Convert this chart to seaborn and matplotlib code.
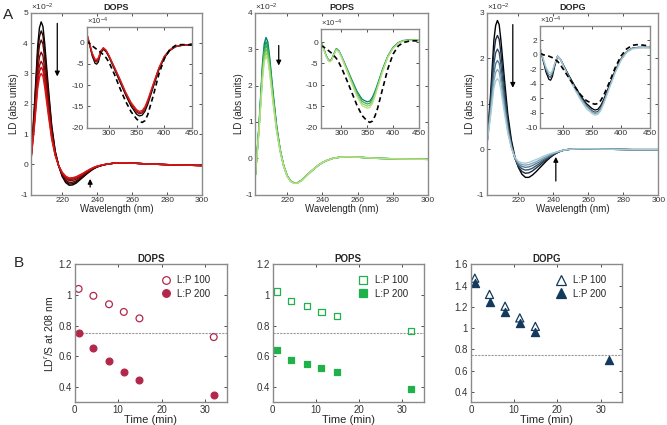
import numpy as np
import pandas as pd
import matplotlib
matplotlib.use("Agg")
import matplotlib.pyplot as plt
import seaborn as sns
from matplotlib.lines import Line2D
from matplotlib.ticker import FuncFormatter

# ---- panel A: LD spectra (units of 1e-2) ----
wl = [202, 204, 206, 207, 208, 209, 210, 212, 214, 216, 218, 220, 222, 224, 226,
      228, 230, 232, 234, 236, 238, 240, 243, 246, 250, 255, 260, 270, 285, 300]

dops_ld = [
    [0.05, 1.8, 3.9, 4.5, 4.7, 4.55, 4.0, 2.6, 1.3, 0.45, -0.05, -0.4, -0.6, -0.69, -0.68, -0.62, -0.52, -0.42, -0.32, -0.23, -0.15, -0.09, -0.03, 0.01, 0.04, 0.05, 0.04, 0.01, -0.02, -0.04],
    [0.05, 1.68, 3.65, 4.21, 4.4, 4.26, 3.74, 2.43, 1.22, 0.42, -0.05, -0.37, -0.56, -0.65, -0.64, -0.58, -0.49, -0.4, -0.3, -0.21, -0.14, -0.08, -0.03, 0.01, 0.04, 0.05, 0.04, 0.01, -0.02, -0.04],
    [0.05, 1.57, 3.4, 3.92, 4.1, 3.97, 3.49, 2.27, 1.14, 0.39, -0.05, -0.34, -0.52, -0.6, -0.59, -0.54, -0.46, -0.37, -0.28, -0.2, -0.13, -0.08, -0.03, 0.01, 0.04, 0.05, 0.04, 0.01, -0.02, -0.04],
    [0.05, 1.42, 3.07, 3.54, 3.7, 3.58, 3.15, 2.05, 1.02, 0.36, -0.05, -0.31, -0.47, -0.54, -0.53, -0.49, -0.42, -0.34, -0.26, -0.18, -0.12, -0.07, -0.02, 0.01, 0.04, 0.05, 0.04, 0.01, -0.02, -0.04],
    [0.05, 1.3, 2.82, 3.25, 3.4, 3.29, 2.89, 1.88, 0.94, 0.33, -0.05, -0.29, -0.44, -0.5, -0.49, -0.45, -0.39, -0.31, -0.24, -0.17, -0.11, -0.07, -0.02, 0.01, 0.04, 0.05, 0.04, 0.01, -0.02, -0.04],
    [0.05, 1.22, 2.66, 3.06, 3.2, 3.1, 2.72, 1.77, 0.89, 0.31, -0.05, -0.27, -0.41, -0.47, -0.46, -0.42, -0.37, -0.3, -0.23, -0.16, -0.11, -0.06, -0.02, 0.01, 0.04, 0.05, 0.04, 0.01, -0.02, -0.04],
    [0.05, 1.15, 2.49, 2.87, 3.0, 2.9, 2.55, 1.66, 0.83, 0.29, -0.05, -0.26, -0.39, -0.45, -0.44, -0.41, -0.35, -0.29, -0.22, -0.16, -0.1, -0.06, -0.02, 0.01, 0.04, 0.05, 0.04, 0.01, -0.02, -0.04],
]
pops_ld = [
    [-0.45, 0.9, 2.6, 3.15, 3.32, 3.2, 2.8, 1.8, 0.9, 0.25, -0.2, -0.48, -0.63, -0.68, -0.67, -0.61, -0.52, -0.43, -0.34, -0.26, -0.18, -0.12, -0.05, 0.0, 0.03, 0.04, 0.03, 0.0, -0.02, -0.03],
    [-0.45, 0.86, 2.5, 3.04, 3.2, 3.08, 2.7, 1.73, 0.86, 0.23, -0.2, -0.48, -0.63, -0.68, -0.67, -0.61, -0.52, -0.43, -0.34, -0.26, -0.18, -0.12, -0.05, 0.0, 0.03, 0.04, 0.03, 0.0, -0.02, -0.03],
    [-0.45, 0.83, 2.42, 2.94, 3.1, 2.99, 2.61, 1.68, 0.83, 0.22, -0.21, -0.48, -0.63, -0.68, -0.67, -0.61, -0.52, -0.43, -0.34, -0.26, -0.18, -0.12, -0.05, 0.0, 0.03, 0.04, 0.03, 0.0, -0.02, -0.03],
    [-0.45, 0.8, 2.34, 2.85, 3.0, 2.89, 2.53, 1.62, 0.8, 0.21, -0.21, -0.49, -0.63, -0.68, -0.67, -0.61, -0.52, -0.43, -0.34, -0.26, -0.18, -0.12, -0.05, 0.0, 0.03, 0.04, 0.03, 0.0, -0.02, -0.03],
    [-0.45, 0.77, 2.26, 2.75, 2.9, 2.8, 2.44, 1.57, 0.77, 0.2, -0.22, -0.49, -0.64, -0.69, -0.68, -0.62, -0.53, -0.43, -0.34, -0.26, -0.18, -0.12, -0.05, 0.0, 0.03, 0.04, 0.03, 0.0, -0.02, -0.03],
    [-0.45, 0.74, 2.18, 2.66, 2.8, 2.7, 2.36, 1.51, 0.74, 0.19, -0.22, -0.5, -0.64, -0.69, -0.68, -0.62, -0.53, -0.43, -0.34, -0.26, -0.18, -0.12, -0.05, 0.0, 0.03, 0.04, 0.03, 0.0, -0.02, -0.03],
]
dopg_ld = [
    [0.1, 1.15, 2.4, 2.72, 2.83, 2.74, 2.4, 1.55, 0.75, 0.2, -0.17, -0.4, -0.55, -0.62, -0.62, -0.57, -0.5, -0.42, -0.34, -0.26, -0.19, -0.13, -0.06, -0.02, 0.0, 0.01, 0.01, 0.0, -0.01, -0.01],
    [0.1, 1.03, 2.13, 2.41, 2.5, 2.42, 2.12, 1.35, 0.63, 0.13, -0.2, -0.39, -0.49, -0.53, -0.52, -0.48, -0.42, -0.36, -0.29, -0.23, -0.17, -0.12, -0.06, -0.02, 0.0, 0.01, 0.01, 0.0, -0.01, -0.01],
    [0.1, 0.93, 1.88, 2.12, 2.2, 2.13, 1.86, 1.17, 0.53, 0.09, -0.2, -0.36, -0.43, -0.46, -0.45, -0.42, -0.37, -0.32, -0.26, -0.21, -0.16, -0.11, -0.06, -0.02, 0.0, 0.01, 0.01, 0.0, -0.01, -0.01],
    [0.1, 0.83, 1.67, 1.88, 1.95, 1.89, 1.65, 1.02, 0.45, 0.06, -0.2, -0.33, -0.38, -0.4, -0.39, -0.36, -0.32, -0.28, -0.23, -0.19, -0.14, -0.1, -0.05, -0.02, 0.0, 0.01, 0.01, 0.0, -0.01, -0.01],
    [0.1, 0.76, 1.5, 1.69, 1.75, 1.7, 1.47, 0.9, 0.39, 0.04, -0.19, -0.3, -0.34, -0.35, -0.34, -0.31, -0.28, -0.24, -0.2, -0.16, -0.12, -0.09, -0.05, -0.02, 0.0, 0.01, 0.01, 0.0, -0.01, -0.01],
    [0.1, 0.7, 1.35, 1.5, 1.55, 1.5, 1.3, 0.8, 0.35, 0.02, -0.18, -0.27, -0.3, -0.31, -0.29, -0.26, -0.23, -0.2, -0.16, -0.13, -0.1, -0.08, -0.05, -0.02, 0.0, 0.01, 0.01, 0.0, -0.01, -0.01],
]

# ---- insets (units of 1e-4) ----
inset_wl = [260, 265, 270, 275, 278, 281, 285, 290, 295, 300, 310, 320, 330, 340,
            350, 355, 360, 365, 370, 380, 390, 400, 410, 420, 430, 440, 450]

dops_in = [
    [1.8, -0.5, -3.2, -4.9, -5.1, -4.6, -2.6, -1.6, -2.2, -3.4, -6.3, -9.3, -12.3, -15.0, -16.9, -17.3, -17.1, -16.2, -14.6, -10.5, -6.5, -3.6, -1.9, -1.0, -0.7, -0.6, -0.5],
    [2.0, -0.3, -2.9, -4.4, -4.6, -4.1, -2.3, -1.4, -2.0, -3.2, -6.0, -9.0, -12.0, -14.6, -16.4, -16.8, -16.6, -15.7, -14.1, -10.1, -6.2, -3.4, -1.8, -1.0, -0.7, -0.6, -0.5],
    [2.1, -0.2, -2.7, -4.2, -4.3, -3.9, -2.2, -1.3, -1.9, -3.1, -5.9, -8.8, -11.8, -14.4, -16.1, -16.5, -16.3, -15.4, -13.8, -9.9, -6.1, -3.3, -1.7, -0.9, -0.7, -0.6, -0.5],
    [2.2, -0.1, -2.5, -3.9, -4.0, -3.6, -2.0, -1.2, -1.8, -3.0, -5.8, -8.6, -11.6, -14.1, -15.8, -16.2, -16.0, -15.1, -13.5, -9.7, -6.0, -3.2, -1.7, -0.9, -0.7, -0.6, -0.5],
]
dops_in_ref = [0.5, -0.2, -0.8, -1.3, -1.6, -1.9, -2.3, -2.9, -3.6, -4.6, -7.5, -10.8, -13.8, -16.3, -18.0, -18.6, -18.8, -18.4, -17.0, -12.5, -7.5, -3.8, -1.6, -0.7, -0.5, -0.5, -0.6]

pops_in = [
    [0.3, -1.2, -3.0, -4.2, -4.3, -4.0, -2.8, -1.5, -2.0, -3.2, -6.0, -8.8, -11.5, -13.4, -14.0, -13.8, -12.9, -11.5, -9.8, -6.2, -3.2, -1.2, -0.1, 0.4, 0.5, 0.5, 0.4],
    [0.2, -1.3, -3.1, -4.3, -4.4, -4.1, -2.9, -1.6, -2.1, -3.3, -6.2, -9.1, -11.9, -13.9, -14.5, -14.3, -13.4, -11.9, -10.1, -6.4, -3.3, -1.3, -0.2, 0.3, 0.5, 0.5, 0.4],
    [0.1, -1.4, -3.2, -4.4, -4.5, -4.2, -3.0, -1.7, -2.2, -3.4, -6.4, -9.4, -12.3, -14.4, -15.0, -14.8, -13.9, -12.3, -10.4, -6.6, -3.4, -1.4, -0.2, 0.3, 0.4, 0.5, 0.4],
    [0.0, -1.5, -3.3, -4.5, -4.6, -4.3, -3.1, -1.8, -2.3, -3.5, -6.6, -9.7, -12.7, -14.9, -15.5, -15.3, -14.4, -12.7, -10.7, -6.8, -3.5, -1.5, -0.3, 0.2, 0.4, 0.4, 0.3],
]
pops_in_ref = [-0.8, -1.1, -1.5, -2.0, -2.3, -2.6, -3.1, -3.8, -4.8, -6.0, -8.8, -11.8, -14.8, -17.2, -18.5, -18.8, -18.5, -17.3, -15.5, -10.8, -6.2, -2.8, -0.9, -0.1, 0.2, 0.3, 0.3]

dopg_in = [
    [0.8, -0.8, -2.4, -3.4, -3.5, -3.0, -1.6, -0.2, -0.6, -1.4, -2.9, -4.3, -5.6, -6.7, -7.4, -7.6, -7.5, -7.0, -6.2, -4.2, -2.2, -0.6, 0.4, 0.9, 1.0, 1.0, 1.0],
    [0.8, -0.7, -2.1, -3.0, -3.1, -2.7, -1.4, -0.2, -0.6, -1.4, -3.0, -4.4, -5.8, -6.9, -7.7, -7.9, -7.8, -7.3, -6.4, -4.4, -2.3, -0.7, 0.4, 0.9, 1.0, 1.0, 1.0],
    [0.8, -0.6, -1.9, -2.7, -2.8, -2.4, -1.3, -0.2, -0.6, -1.5, -3.1, -4.6, -6.0, -7.1, -7.9, -8.1, -8.0, -7.5, -6.6, -4.5, -2.4, -0.7, 0.4, 0.9, 1.0, 1.0, 1.0],
    [0.8, -0.5, -1.7, -2.4, -2.5, -2.2, -1.2, -0.2, -0.6, -1.5, -3.2, -4.8, -6.2, -7.4, -8.1, -8.3, -8.2, -7.7, -6.8, -4.6, -2.5, -0.8, 0.3, 0.8, 0.9, 1.0, 0.9],
]
dopg_in_ref = [0.2, 0.0, -0.1, -0.2, -0.3, -0.4, -0.6, -0.9, -1.4, -2.0, -3.2, -4.4, -5.5, -6.3, -6.7, -6.8, -6.7, -6.3, -5.6, -3.8, -1.8, -0.2, 0.8, 1.3, 1.4, 1.3, 1.2]

# ---- panel B: LD^r/S at 208 nm vs time ----
time_min = [0.9, 4.3, 7.9, 11.3, 14.9, 32.0]
dops_lp100 = [1.04, 0.995, 0.94, 0.89, 0.848, 0.726]
dops_lp200 = [0.752, 0.654, 0.568, 0.50, 0.448, 0.347]
pops_lp100 = [1.023, 0.962, 0.929, 0.887, 0.866, 0.767]
pops_lp200 = [0.645, 0.579, 0.553, 0.522, 0.498, 0.387]
dopg_lp100 = [1.47, 1.317, 1.206, 1.096, 1.016, np.nan]
dopg_lp200 = [1.427, 1.25, 1.156, 1.052, 0.961, 0.702]
threshold = 0.75

dops_cols = ["#000000", "#2e0404", "#560707", "#7d0a0a", "#a00c0c", "#bf1010", "#d81818"]
pops_cols = ["#00806a", "#139a5a", "#3cae50", "#66c152", "#8fd060", "#b6e087"]
dopg_cols = ["#000000", "#1c2b40", "#34516c", "#557a92", "#80a6b6", "#a9cbd5"]
dops_in_cols = ["#000000", "#8a0a0a", "#b80f0f", "#d42020"]
pops_in_cols = ["#00806a", "#3cae50", "#8fd060", "#b6e087"]
dopg_in_cols = ["#000000", "#34516c", "#80a6b6", "#a9cbd5"]

sns.set_style("ticks")
plt.rcParams["font.family"] = ["Liberation Sans", "DejaVu Sans"]
plt.rcParams["mathtext.fontset"] = "custom"
plt.rcParams["mathtext.rm"] = "Liberation Sans"
plt.rcParams["mathtext.it"] = "Liberation Sans:italic"

fmt = FuncFormatter(lambda v, p: "%g" % round(v, 6))


def long_df(x, curves):
    rows = []
    for i, c in enumerate(curves):
        for xx, yy in zip(x, c):
            rows.append((xx, yy, i))
    return pd.DataFrame(rows, columns=["wl", "ld", "k"])


def frame(ax, fs):
    ax.tick_params(direction="in", top=True, right=True, labelsize=fs,
                   length=2.5, width=0.6, colors="#333333", pad=2)
    for s in ax.spines.values():
        s.set_color("#8a8a8a")
        s.set_linewidth(1.0)
    ax.xaxis.set_major_formatter(fmt)
    ax.yaxis.set_major_formatter(fmt)


def spectra(ax, x, curves, cols, lw):
    sns.lineplot(data=long_df(x, curves), x="wl", y="ld", hue="k", palette=cols,
                 estimator=None, sort=False, legend=False, lw=lw, ax=ax)


fig = plt.figure(figsize=(6.67, 4.25), dpi=100)

main_pos = [[0.046, 0.542, 0.257, 0.428], [0.383, 0.542, 0.259, 0.428], [0.730, 0.542, 0.257, 0.428]]
ins_pos = [[0.130, 0.700, 0.158, 0.236], [0.481, 0.700, 0.147, 0.232], [0.810, 0.700, 0.164, 0.238]]
names = ["DOPS", "POPS", "DOPG"]
mains = [dops_ld, pops_ld, dopg_ld]
insets = [dops_in, pops_in, dopg_in]
refs = [dops_in_ref, pops_in_ref, dopg_in_ref]
cols = [dops_cols, pops_cols, dopg_cols]
in_cols = [dops_in_cols, pops_in_cols, dopg_in_cols]
ytop = [5, 4, 3]
in_ylim = [(-20, 3.6), (-20, 3.1), (-10, 3.9)]
in_yticks = [[-20, -15, -10, -5, 0], [-20, -15, -10, -5, 0], [-10, -8, -6, -4, -2, 0, 2]]
# arrows: (x, y_tail, y_tip)
arrows = [[(217.2, 4.65, 2.9), (236, -0.75, -0.48)],
          [(215.2, 3.1, 2.55)],
          [(216.8, 2.74, 1.35), (241.4, -0.7, -0.17)]]

for i in range(3):
    ax = fig.add_axes(main_pos[i])
    spectra(ax, wl, mains[i], cols[i], 1.0)
    ax.set_xlim(202, 300)
    ax.set_ylim(-1, ytop[i])
    ax.set_xticks([220, 240, 260, 280, 300])
    ax.set_yticks(range(-1, ytop[i] + 1))
    frame(ax, 6)
    ax.set_xlabel("Wavelength (nm)", fontsize=7, labelpad=0)
    ax.set_ylabel("LD (abs units)", fontsize=7, labelpad=1)
    ax.set_title(names[i], fontsize=6.5, fontweight="bold", pad=2)
    ax.text(0.0, 1.0, "×10$^{-2}$", transform=ax.transAxes, fontsize=6,
            color="#333333", ha="left", va="bottom")
    for (xa, y0, y1) in arrows[i]:
        ax.annotate("", xy=(xa, y1), xytext=(xa, y0),
                    arrowprops=dict(arrowstyle="-|>", color="black", lw=0.9,
                                    mutation_scale=7, shrinkA=0, shrinkB=0))

    axi = fig.add_axes(ins_pos[i])
    spectra(axi, inset_wl, insets[i], in_cols[i], 0.9)
    sns.lineplot(x=inset_wl, y=refs[i], color="black", lw=1.2, linestyle=(0, (3, 2)), ax=axi)
    axi.set_xlim(260, 450)
    axi.set_ylim(*in_ylim[i])
    axi.set_xticks([300, 350, 400, 450])
    axi.set_yticks(in_yticks[i])
    frame(axi, 6)
    axi.set_xlabel("")
    axi.set_ylabel("")
    axi.text(0.0, 1.0, "×10$^{-4}$", transform=axi.transAxes, fontsize=5.5,
             color="#333333", ha="left", va="bottom")

# ---- bottom row ----
b_pos = [[0.112, 0.053, 0.228, 0.325], [0.409, 0.053, 0.226, 0.325], [0.706, 0.053, 0.227, 0.325]]
lp100 = [dops_lp100, pops_lp100, dopg_lp100]
lp200 = [dops_lp200, pops_lp200, dopg_lp200]
mcol = ["#b3284a", "#1fb24a", "#133a5c"]
mark = ["o", "s", "^"]
msize = [24, 20, 34]
b_ylim = [(0.3, 1.2), (0.3, 1.2), (0.3, 1.6)]

for i in range(3):
    ax = fig.add_axes(b_pos[i])
    ax.axhline(threshold, color="#9a9a9a", lw=0.8, ls=(0, (2, 1)), zorder=0)
    sns.scatterplot(x=time_min, y=lp100[i], marker=mark[i], s=msize[i], color=mcol[i],
                    facecolor="none", edgecolor=mcol[i], linewidth=0.9, ax=ax)
    sns.scatterplot(x=time_min, y=lp200[i], marker=mark[i], s=msize[i], color=mcol[i],
                    edgecolor=mcol[i], linewidth=0.9, ax=ax)
    ax.set_xlim(0, 35)
    ax.set_ylim(*b_ylim[i])
    ax.set_xticks([0, 10, 20, 30])
    ax.set_yticks(np.arange(0.4, b_ylim[i][1] + 0.01, 0.2))
    frame(ax, 7)
    ax.set_xlabel("Time (min)", fontsize=8, labelpad=0)
    ax.set_title(names[i], fontsize=7, fontweight="bold", pad=2)
    if i == 0:
        ax.set_ylabel("LD$^r$/S at 208 nm", fontsize=7.5, labelpad=2)
    else:
        ax.set_ylabel("")
    ms = 5.5 if i < 2 else 6.5
    h = [Line2D([], [], ls="none", marker=mark[i], ms=ms, mfc="none", mec=mcol[i], mew=0.9),
         Line2D([], [], ls="none", marker=mark[i], ms=ms, mfc=mcol[i], mec=mcol[i], mew=0.9)]
    ax.legend(h, ["L:P 100", "L:P 200"], loc="upper left", bbox_to_anchor=(0.54, 0.95),
              frameon=False, fontsize=7, handlelength=1.0, handletextpad=0.7,
              labelspacing=0.35, borderaxespad=0)

fig.text(0.004, 0.965, "A", fontsize=11, ha="left", va="center")
fig.text(0.02, 0.382, "B", fontsize=11, ha="left", va="center")

fig.savefig("out.png", dpi=100)
